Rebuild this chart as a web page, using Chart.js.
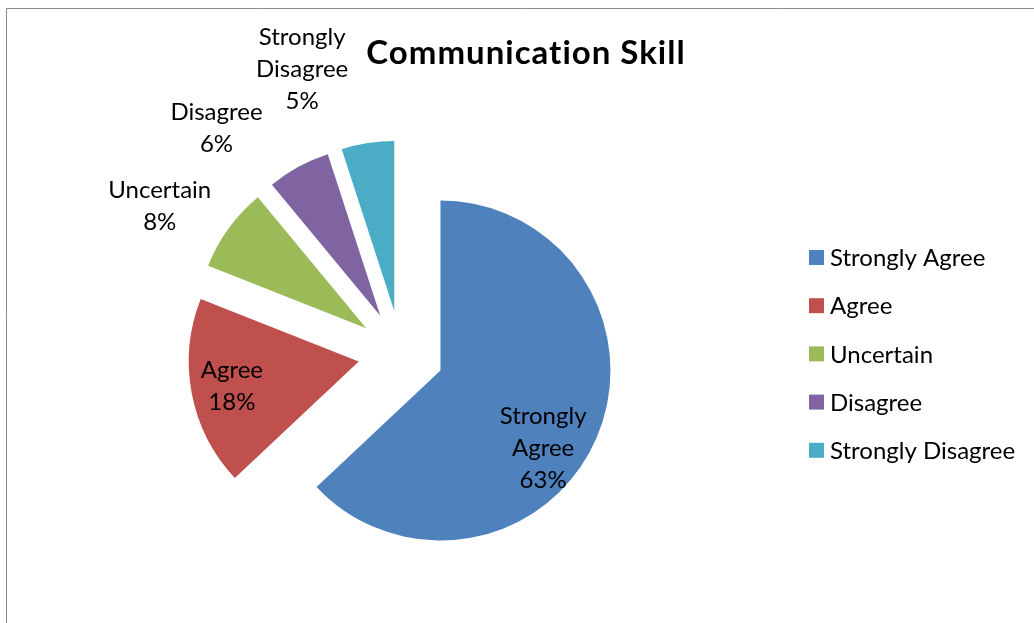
<!DOCTYPE html>
<html>
<head>
<meta charset="utf-8">
<script src="https://cdn.jsdelivr.net/npm/chart.js@4"></script>
<style>
  html, body { margin: 0; padding: 0; background: #ffffff; }
  #wrap { position: relative; width: 1034px; height: 623px; }
</style>
</head>
<body>
<div id="wrap"><canvas id="skillChart" width="1034" height="623"></canvas></div>
<script>
// Survey responses
const categories = ['Strongly Agree', 'Agree', 'Uncertain', 'Disagree', 'Strongly Disagree'];
const responses = [63, 18, 8, 6, 5];
const sliceColors = ['#4F81BD', '#C0504D', '#9BBB59', '#8064A2', '#4BACC6'];
const chartTitle = 'Communication Skill';

const FONT = 'Lato, "Open Sans", sans-serif';

// where each data label sits: t = fraction along the slice's sweep, k = fraction of the radius
const labelPlacement = [
    { t: 0.56, k: 0.756 },
    { t: 0.50, k: 0.76 },
    { t: 0.31, k: 1.41 },
    { t: -0.07, k: 1.465 },
    { t: -0.16, k: 1.52 }
];

// every slice is pulled out from the centre along its bisector
const explodePlugin = {
    id: 'explode',
    beforeDatasetsDraw(chart, args, opts) {
        const area = chart.chartArea;
        const cx = (area.left + area.right) / 2;
        const cy = (area.top + area.bottom) / 2;
        chart.getDatasetMeta(0).data.forEach(arc => {
            const mid = (arc.startAngle + arc.endAngle) / 2;
            arc.x = cx + Math.cos(mid) * opts.distance;
            arc.y = cy + Math.sin(mid) * opts.distance;
        });
    }
};

// frame lines, title, slice labels and legend
const decorPlugin = {
    id: 'decor',
    beforeDraw(chart) {
        const ctx = chart.ctx;
        ctx.save();
        ctx.strokeStyle = '#8c8c8c';
        ctx.lineWidth = 1;
        ctx.beginPath();
        ctx.moveTo(6.5, chart.height);
        ctx.lineTo(6.5, 8.5);
        ctx.lineTo(chart.width, 8.5);
        ctx.stroke();
        ctx.restore();
    },
    afterDatasetsDraw(chart, args, opts) {
        const ctx = chart.ctx;
        const ds = chart.data.datasets[0];
        const total = ds.data.reduce((a, b) => a + b, 0);
        ctx.save();
        ctx.fillStyle = '#000000';

        // title (a little tracking keeps Lato from joining "ti")
        ctx.font = 'bold ' + opts.titleSize + 'px ' + FONT;
        ctx.letterSpacing = opts.titleTracking + 'px';
        ctx.textAlign = 'center';
        ctx.textBaseline = 'alphabetic';
        ctx.fillText(chartTitle, opts.titleX, opts.titleY);
        ctx.letterSpacing = '0px';

        // data labels
        ctx.font = opts.labelSize + 'px ' + FONT;
        ctx.textBaseline = 'middle';
        chart.getDatasetMeta(0).data.forEach((arc, i) => {
            const p = labelPlacement[i];
            const ang = arc.startAngle + p.t * (arc.endAngle - arc.startAngle);
            const r = arc.outerRadius * p.k;
            const x = arc.x + Math.cos(ang) * r;
            const y = arc.y + Math.sin(ang) * r;
            const pct = Math.round(ds.data[i] / total * 100) + '%';
            const lines = chart.data.labels[i].split(' ').concat(pct);
            const top = y - (lines.length - 1) * opts.lineHeight / 2;
            lines.forEach((ln, j) => ctx.fillText(ln, x, top + j * opts.lineHeight));
        });

        // legend
        ctx.textAlign = 'left';
        chart.data.labels.forEach((lbl, i) => {
            const cy = opts.legendTop + i * opts.legendStep;
            ctx.fillStyle = ds.backgroundColor[i];
            ctx.fillRect(opts.legendX, cy - opts.boxSize / 2, opts.boxSize, opts.boxSize);
            ctx.fillStyle = '#000000';
            ctx.fillText(lbl, opts.legendX + opts.boxSize + 6, cy + 1);
        });
        ctx.restore();
    }
};

new Chart(document.getElementById('skillChart'), {
    type: 'pie',
    data: {
        labels: categories,
        datasets: [{
            data: responses,
            backgroundColor: sliceColors,
            borderWidth: 0
        }]
    },
    options: {
        responsive: false,
        animation: false,
        radius: 170,
        layout: { padding: { left: 20, right: 252, top: 100, bottom: 16 } },
        events: [],
        plugins: {
            legend: { display: false },
            title: { display: false },
            tooltip: { enabled: false },
            explode: { distance: 43 },
            decor: {
                titleSize: 33, titleTracking: 1, titleX: 526, titleY: 64,
                labelSize: 24, lineHeight: 32,
                legendX: 809, legendTop: 257.5, legendStep: 48.2, boxSize: 15
            }
        }
    },
    plugins: [explodePlugin, decorPlugin]
});
</script>
</body>
</html>
